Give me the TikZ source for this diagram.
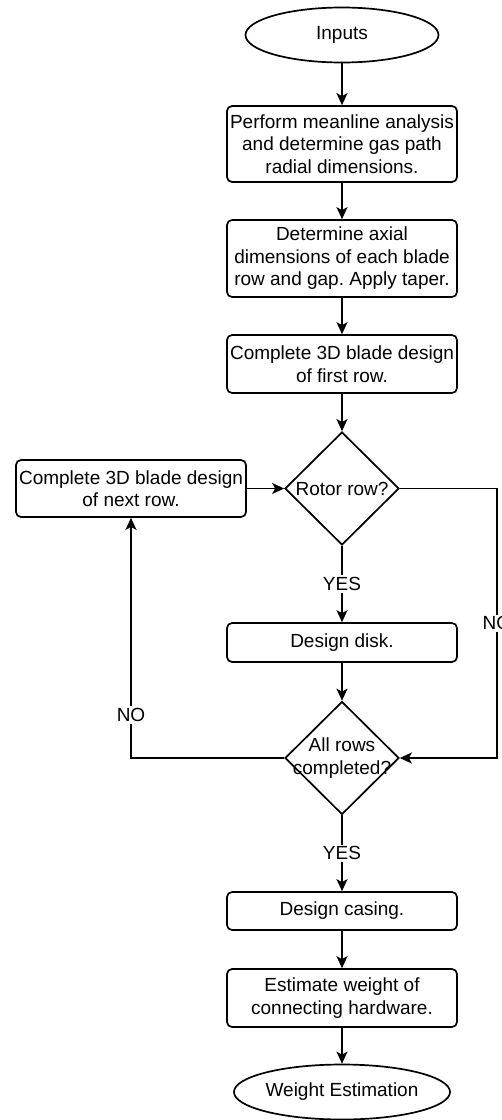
\documentclass[tikz,border=0pt]{standalone}
\usepackage{fontspec}
\setmainfont{Liberation Sans}
\frenchspacing
\usepackage{tikz}
\usetikzlibrary{positioning,arrows.meta,calc,shapes.geometric}
\tikzset{
  txt/.style={font=\fontsize{19}{22.5}\selectfont, align=center},
  proc/.style={txt, draw, line width=1.7pt, rounded corners=5pt, minimum width=230pt,
               inner sep=0pt},
  term/.style={txt, draw, line width=1.7pt, ellipse, minimum width=193pt,
               minimum height=55pt, inner sep=0pt},
  decide/.style={draw, line width=1.7pt, diamond, minimum width=114pt,
                 minimum height=113pt, inner sep=0pt},
  flow/.style={-{Stealth[length=12pt, width=11pt, inset=3pt]}, line width=1.7pt},
  lbl/.style={txt, fill=white, inner sep=2pt}
}

\begin{document}
\begin{tikzpicture}[x=1pt, y=-1pt]
    \useasboundingbox (0,0) rectangle (502,1120);
    \node[term] (inp) at (342,35) {Inputs};
    \node[proc, minimum height=76pt] (mean) at (342,144)
      {Perform meanline analysis\\and determine gas path\\radial dimensions.};
    \node[proc, minimum height=77pt] (axial) at (342,258.5)
      {Determine axial\\dimensions of each blade\\row and gap. Apply taper.};
    \node[proc, minimum height=58pt] (first) at (342,364)
      {Complete 3D blade design\\of first row.};
    \node[decide, label={[txt]center:Rotor row?}] (rotor) at (342,488.5) {};
    \node[proc, minimum height=57pt] (next) at (131,488.5)
      {Complete 3D blade design\\of next row.};
    \node[proc, minimum height=39pt] (disk) at (342,642.5) {Design disk.};
    \node[decide, label={[txt]center:All rows\\completed?}] (allrows) at (342,758) {};
    \node[proc, minimum height=38pt] (casing) at (342,911) {Design casing.};
    \node[proc, minimum height=58pt] (hw) at (342,998)
      {Estimate weight of\\connecting hardware.};
    \node[term] (wt) at (342,1092) {Weight Estimation};

    \draw[flow] (inp) -- (mean);
    \draw[flow] (mean) -- (axial);
    \draw[flow] (axial) -- (first);
    \draw[flow] (first) -- (rotor);
    \draw[flow] (next) -- (rotor);
    \draw[flow] (rotor) -- node[lbl]{YES} (disk);
    \draw[flow] (rotor.east) -- ++(97,0) |- node[lbl, pos=0.25]{NO} (allrows.east);
    \draw[flow] (disk) -- (allrows);
    \draw[flow] (allrows.west) -| node[lbl, pos=0.59]{NO} (next.south);
    \draw[flow] (allrows) -- node[lbl]{YES} (casing);
    \draw[flow] (casing) -- (hw);
    \draw[flow] (hw) -- (wt);
  \end{tikzpicture}
\end{document}
